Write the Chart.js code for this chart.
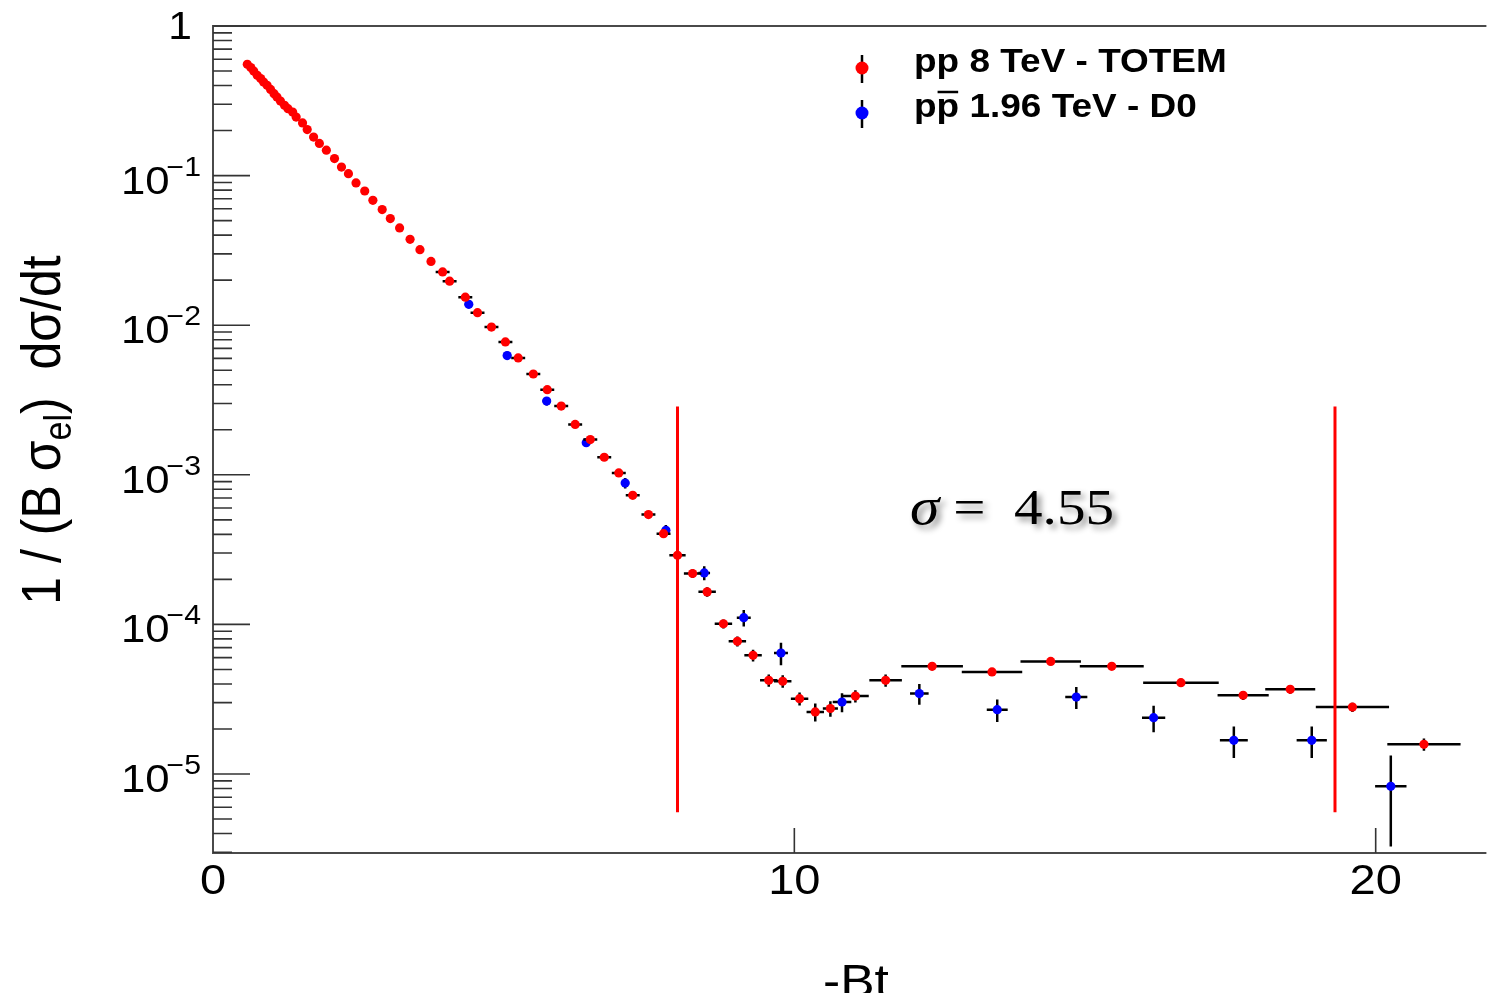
<!DOCTYPE html>
<html>
<head>
<meta charset="utf-8">
<title>-Bt scaling</title>
<script src="https://cdn.jsdelivr.net/npm/chart.js@4/dist/chart.umd.min.js"></script>
<style>
  html, body { margin: 0; padding: 0; background: #fff; }
  canvas { display: block; }
</style>
</head>
<body>
<canvas id="chart" width="1489" height="993"></canvas>
<script>
"use strict";

// ── pp 8 TeV - TOTEM ─────────────────────────────────────
const totemX = [0.59, 0.65, 0.70, 0.76, 0.82, 0.87, 0.93, 0.99, 1.05, 1.10,
                1.16, 1.23, 1.29, 1.37, 1.43, 1.54, 1.62, 1.73, 1.83, 1.95,
                2.09, 2.21, 2.33, 2.46, 2.61, 2.75, 2.91, 3.05, 3.21, 3.39,
                3.56, 3.75, 3.95, 4.07, 4.34, 4.55, 4.79, 5.03, 5.25, 5.51,
                5.75, 5.99, 6.23, 6.49, 6.73, 6.98, 7.22, 7.49, 7.75, 7.99,
                8.25, 8.50, 8.78, 9.02, 9.29, 9.56, 9.80, 10.09, 10.36, 10.62,
                11.05, 11.57, 12.37, 13.40, 14.41, 15.46, 16.65, 17.72, 18.53, 19.60, 20.83];
const totemY = [0.555, 0.527, 0.500, 0.468, 0.445, 0.422, 0.401, 0.377, 0.353, 0.335,
                0.315, 0.295, 0.280, 0.266, 0.246, 0.225, 0.203, 0.181, 0.164, 0.148,
                0.130, 0.114, 0.103, 0.0893, 0.0789, 0.0684, 0.0593, 0.0516, 0.0447, 0.0375,
                0.0320, 0.0267, 0.0227, 0.0197, 0.0154, 0.01213, 0.00972, 0.00773, 0.00604, 0.00472,
                0.00371, 0.00288, 0.00217, 0.00172, 0.00131, 0.00103, 0.000729, 0.000542, 0.000404, 0.000290,
                0.000219, 0.000165, 0.000101, 7.71e-5, 6.21e-5, 4.23e-5, 4.17e-5, 3.19e-5, 2.60e-5, 2.74e-5,
                3.32e-5, 4.23e-5, 5.25e-5, 4.81e-5, 5.66e-5, 5.25e-5, 4.08e-5, 3.36e-5, 3.68e-5, 2.80e-5, 1.58e-5];
const totemXErr = [0, 0, 0, 0, 0, 0, 0, 0, 0, 0,
                   0, 0, 0, 0, 0, 0, 0, 0, 0, 0,
                   0, 0, 0, 0, 0, 0, 0, 0, 0, 0,
                   0, 0, 0.12, 0.12, 0.12, 0.12, 0.12, 0.12, 0.12, 0.12,
                   0.12, 0.12, 0.12, 0.12, 0.12, 0.12, 0.12, 0.12, 0.12, 0.14,
                   0.15, 0.15, 0.15, 0.15, 0.15, 0.15, 0.15, 0.15, 0.15, 0.13,
                   0.23, 0.28, 0.53, 0.52, 0.52, 0.55, 0.65, 0.44, 0.43, 0.63, 0.63];
const totemYErr = [0, 0, 0, 0, 0, 0, 0, 0, 0, 0,
                   0, 0, 0, 0, 0, 0, 0, 0, 0, 0,
                   0, 0, 0, 0, 0, 0, 0, 0, 0, 0,
                   0, 0, 0.0009, 0.0008, 0.0006, 0.00049, 0.00039, 0.00031, 0.00024, 0.00019,
                   0.00015, 0.000115, 0.000087, 0.000069, 0.000052, 0.000041, 0.000029, 0.000022, 0.000016, 0.00002,
                   0.000015, 0.000012, 7e-6, 5.8e-6, 5.6e-6, 4e-6, 4e-6, 3.2e-6, 3.6e-6, 3.3e-6,
                   3.1e-6, 4e-6, 3.1e-6, 2.9e-6, 3.2e-6, 3e-6, 2.6e-6, 2.3e-6, 2.4e-6, 2e-6, 1.5e-6];

// ── ppbar 1.96 TeV - D0 ──────────────────────────────────
const d0X    = [4.40, 5.06, 5.74, 6.42, 7.09, 7.79, 8.45, 9.13, 9.77, 10.82,
                12.15, 13.49, 14.85, 16.18, 17.56, 18.90, 20.26];
const d0Y    = [0.0138, 0.00627, 0.00311, 0.00164, 0.000881, 0.000426, 0.000221, 0.000111, 6.44e-5, 3.03e-5,
                3.45e-5, 2.69e-5, 3.27e-5, 2.38e-5, 1.68e-5, 1.68e-5, 8.28e-6];
const d0XErr = [0.07, 0.07, 0.07, 0.07, 0.07, 0.07, 0.10, 0.12, 0.12, 0.16,
                0.16, 0.18, 0.19, 0.20, 0.24, 0.26, 0.27];
const d0YErr = [8e-4, 4e-4, 2e-4, 1e-4, 7e-5, 3.5e-5, 2.4e-5, 1.4e-5, 1.1e-5, 4.4e-6,
                5.5e-6, 4.6e-6, 5.5e-6, 4.8e-6, 4e-6, 4e-6, 5e-6];

// ── axes / annotations ───────────────────────────────────
const xTickValues = [0, 10, 20];
const yDecades    = [0, -1, -2, -3, -4, -5];
const xRange      = [0, 21.87];
const yRange      = [2.965e-6, 1];
const cutLineX    = [7.99, 19.30];
const cutLineY    = [2.86e-3, 5.55e-6];
const legendLabels = ["pp 8 TeV - TOTEM", "pp 1.96 TeV - D0"];
const sigmaValue  = "4.55";

const STRETCH = 1.12;   // reference text is a little wider than tall
const SANS = "'Liberation Sans', Arial, Helvetica, sans-serif";

function toPoints(xs, ys) {
  return xs.map((x, i) => ({ x, y: ys[i] }));
}

function stretchedText(ctx, text, x, y, align) {
  // draws text widened by STRETCH, x is the anchor for the given alignment
  const w = ctx.measureText(text).width * STRETCH;
  let left = x;
  if (align === "right") left = x - w;
  else if (align === "center") left = x - w / 2;
  ctx.save();
  ctx.translate(left, y);
  ctx.scale(STRETCH, 1);
  ctx.textAlign = "left";
  ctx.fillText(text, 0, 0);
  ctx.restore();
  return w;
}

// ── error bars, drawn just under each dataset's markers ──
const errorBarPlugin = {
  id: "errorBars",
  beforeDatasetDraw(chart, args) {
    const ds = chart.data.datasets[args.index];
    if (!ds.xErr && !ds.yErr) return;
    const xs = chart.scales.x, ys = chart.scales.y, a = chart.chartArea;
    const ctx = chart.ctx;
    ctx.save();
    ctx.beginPath();
    ctx.rect(a.left, a.top, a.right - a.left, a.bottom - a.top);
    ctx.clip();
    ctx.strokeStyle = "#000";
    ctx.lineWidth = 2.5;
    ds.data.forEach((p, i) => {
      const px = xs.getPixelForValue(p.x);
      const py = ys.getPixelForValue(p.y);
      const ex = ds.xErr[i], ey = ds.yErr[i];
      ctx.beginPath();
      if (ex > 0) {
        ctx.moveTo(xs.getPixelForValue(p.x - ex), py);
        ctx.lineTo(xs.getPixelForValue(p.x + ex), py);
      }
      if (ey > 0) {
        const lo = Math.max(p.y - ey, ys.min);
        ctx.moveTo(px, ys.getPixelForValue(p.y + ey));
        ctx.lineTo(px, ys.getPixelForValue(lo));
      }
      ctx.stroke();
    });
    ctx.restore();
  },
};

// ── ROOT-like frame and tick marks ───────────────────────
const framePlugin = {
  id: "rootFrame",
  beforeDatasetsDraw(chart) {
    const ctx = chart.ctx, a = chart.chartArea;
    const xs = chart.scales.x, ys = chart.scales.y;
    ctx.save();
    ctx.strokeStyle = "#4a4a4a";
    ctx.lineWidth = 2;
    ctx.beginPath();
    ctx.moveTo(a.right + 2, a.top); ctx.lineTo(a.left, a.top);
    ctx.lineTo(a.left, a.bottom); ctx.lineTo(a.right + 2, a.bottom);
    ctx.stroke();

    ctx.strokeStyle = "#333";
    ctx.lineWidth = 1.6;
    ctx.beginPath();
    yDecades.forEach(d => {
      const base = Math.pow(10, d);
      const y = ys.getPixelForValue(base);
      ctx.moveTo(a.left, y); ctx.lineTo(a.left + 37, y);
      for (let k = 2; k <= 9; k++) {
        const v = base * k / 10;
        if (v < ys.min) continue;
        const ym = ys.getPixelForValue(v);
        ctx.moveTo(a.left, ym); ctx.lineTo(a.left + 19, ym);
      }
    });
    xTickValues.forEach(v => {
      if (v === 0) return;
      const x = xs.getPixelForValue(v);
      ctx.moveTo(x, a.bottom); ctx.lineTo(x, a.bottom - 25);
    });
    ctx.stroke();
    ctx.restore();
  },

  afterDraw(chart) {
    const ctx = chart.ctx, a = chart.chartArea;
    const xs = chart.scales.x, ys = chart.scales.y;
    ctx.save();
    ctx.fillStyle = "#000";
    ctx.textBaseline = "alphabetic";

    // x tick labels
    ctx.font = "42px " + SANS;
    xTickValues.forEach(v => {
      stretchedText(ctx, String(v), xs.getPixelForValue(v), a.bottom + 41, "center");
    });

    // y tick labels: 1, 10^-1 ...
    yDecades.forEach(d => {
      const y = ys.getPixelForValue(Math.pow(10, d));
      if (d === 0) {
        ctx.font = "38px " + SANS;
        stretchedText(ctx, "1", 192, y + 13, "right");
        return;
      }
      ctx.font = "27px " + SANS;
      const sup = "\u2212" + Math.abs(d);
      const ws = stretchedText(ctx, sup, 201, y, "right");
      ctx.font = "39px " + SANS;
      stretchedText(ctx, "10", 201 - ws + 3, y + 18, "right");
    });

    // x axis title
    ctx.font = "46px " + SANS;
    stretchedText(ctx, "-Bt", 856, 997, "center");

    // y axis title (rotated), with subscript "el"
    ctx.save();
    ctx.translate(60, 430);
    ctx.rotate(-Math.PI / 2);
    ctx.scale(1, STRETCH);
    const big = "50px " + SANS, small = "34px " + SANS;
    const parts = [["1 / (B \u03c3", big, 0], ["el", small, 10], [")  d\u03c3/dt", big, 0]];
    let total = 0;
    parts.forEach(p => { ctx.font = p[1]; total += ctx.measureText(p[0]).width; });
    let cx = -total / 2;
    ctx.textAlign = "left";
    parts.forEach(p => {
      ctx.font = p[1];
      ctx.fillText(p[0], cx, p[2]);
      cx += ctx.measureText(p[0]).width;
    });
    ctx.restore();

    // legend
    const legendColors = ["#ff0000", "#0000ff"];
    const legendY = [68, 113];
    legendLabels.forEach((label, i) => {
      const ly = legendY[i];
      ctx.strokeStyle = "#000";
      ctx.lineWidth = 2.5;
      ctx.beginPath();
      ctx.moveTo(862, ly - 13); ctx.lineTo(862, ly + 15);
      ctx.stroke();
      ctx.fillStyle = legendColors[i];
      ctx.beginPath();
      ctx.arc(862, ly, 6.5, 0, Math.PI * 2);
      ctx.fill();
      ctx.fillStyle = "#000";
      ctx.font = "bold 33px " + SANS;
      stretchedText(ctx, label, 914, ly + 4, "left");
      if (i === 1) {
        // overline on the second p of "pp"
        const wp = ctx.measureText("p").width * STRETCH;
        ctx.lineWidth = 2.5;
        ctx.beginPath();
        ctx.moveTo(914 + wp + 1, ly - 21); ctx.lineTo(914 + 2 * wp - 1, ly - 21);
        ctx.stroke();
      }
    });

    // sigma annotation with soft shadow
    ctx.shadowColor = "rgba(0,0,0,0.45)";
    ctx.shadowBlur = 6;
    ctx.shadowOffsetX = 4;
    ctx.shadowOffsetY = 4;
    ctx.font = "italic 53px 'Liberation Serif', 'DejaVu Serif', serif";
    const ws = stretchedText(ctx, "\u03c3", 910, 524, "left");
    ctx.font = "51px 'Liberation Serif', 'DejaVu Serif', serif";
    stretchedText(ctx, "=  " + sigmaValue, 910 + ws + 14, 524, "left");
    ctx.restore();
  },
};

const cutDatasets = cutLineX.map(x => ({
  type: "line",
  data: [{ x, y: cutLineY[0] }, { x, y: cutLineY[1] }],
  borderColor: "#ff0000",
  borderWidth: 3,
  pointRadius: 0,
  fill: false,
  order: 0,
}));

new Chart(document.getElementById("chart"), {
  type: "scatter",
  data: {
    datasets: [
      ...cutDatasets,
      {
        label: legendLabels[0],
        data: toPoints(totemX, totemY),
        xErr: totemXErr,
        yErr: totemYErr,
        backgroundColor: "#ff0000",
        borderWidth: 0,
        pointRadius: 4.6,
        order: 1,
      },
      {
        label: legendLabels[1],
        data: toPoints(d0X, d0Y),
        xErr: d0XErr,
        yErr: d0YErr,
        backgroundColor: "#0000ff",
        borderWidth: 0,
        pointRadius: 4.6,
        order: 2,
      },
    ],
  },
  options: {
    responsive: false,
    devicePixelRatio: 1,
    animation: false,
    layout: { padding: { top: 26, right: 0, bottom: 0, left: 0 } },
    plugins: {
      legend: { display: false },
      tooltip: { enabled: false },
    },
    scales: {
      x: {
        type: "linear",
        min: xRange[0],
        max: xRange[1],
        grid: { display: false },
        border: { display: false },
        ticks: { display: false },
        afterFit(scale) {
          scale.height = 140;
          scale.paddingLeft = 0;
          scale.paddingRight = 0;
        },
      },
      y: {
        type: "logarithmic",
        min: yRange[0],
        max: yRange[1],
        grid: { display: false },
        border: { display: false },
        ticks: { display: false },
        afterFit(scale) {
          scale.width = 213;
          scale.paddingTop = 0;
          scale.paddingBottom = 0;
        },
      },
    },
  },
  plugins: [errorBarPlugin, framePlugin],
});
</script>
</body>
</html>
